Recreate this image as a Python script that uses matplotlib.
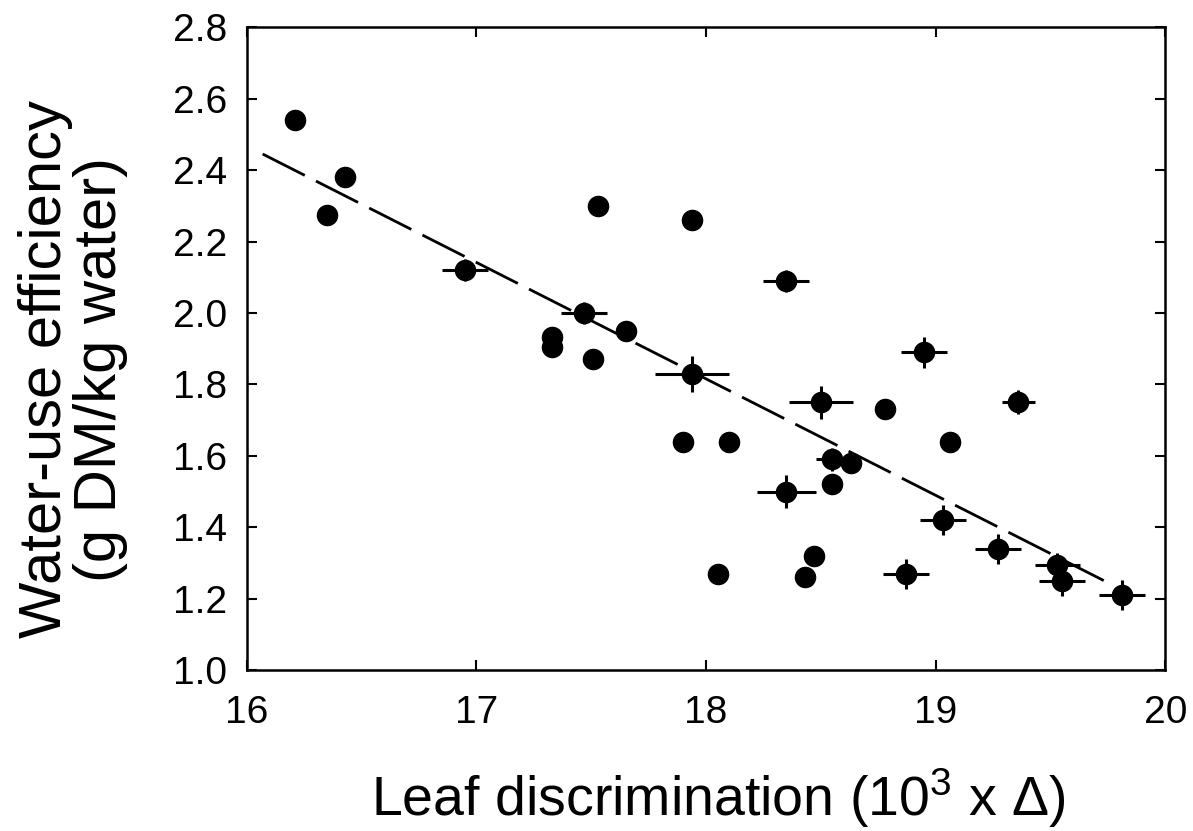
import numpy as np
import matplotlib
matplotlib.use("Agg")
import matplotlib.pyplot as plt

plt.rcParams['font.family'] = ['Liberation Sans', 'DejaVu Sans']
plt.rcParams['mathtext.default'] = 'regular'

# points without error bars
x_plain = [16.21, 16.35, 16.43, 17.33, 17.33, 17.51, 17.53, 17.65, 17.94, 17.90,
           18.10, 18.05, 18.43, 18.47, 18.55, 18.63, 18.78, 19.06]
y_plain = [2.54, 2.275, 2.38, 1.934, 1.906, 1.87, 2.30, 1.95, 2.26, 1.64,
           1.64, 1.27, 1.26, 1.32, 1.52, 1.58, 1.73, 1.64]

# points with error bars
x_err = [16.95, 17.47, 17.94, 18.35, 18.50, 18.55, 18.35, 19.03, 19.27, 18.87,
         18.95, 19.36, 19.53, 19.55, 19.81]
y_err = [2.12, 2.00, 1.83, 2.09, 1.75, 1.59, 1.50, 1.42, 1.34, 1.27,
         1.89, 1.75, 1.293, 1.25, 1.21]
xe = [0.10, 0.10, 0.16, 0.10, 0.14, 0.07, 0.13, 0.10, 0.10, 0.10,
      0.10, 0.07, 0.10, 0.10, 0.10]
ye = [0.03, 0.03, 0.05, 0.03, 0.047, 0.033, 0.047, 0.043, 0.042, 0.042,
      0.043, 0.033, 0.036, 0.044, 0.043]

# regression line
fit_x = [16.07, 19.75]
fit_slope, fit_icpt = -0.3263, 7.689

fig = plt.figure(figsize=(11.93, 8.31), dpi=100)
ax = fig.add_axes([0.2067, 0.1937, 0.7702, 0.7733])

fx = np.array(fit_x)
ax.plot(fx, fit_slope * fx + fit_icpt, color='black', lw=2.0, dashes=(17, 4.5))

ax.errorbar(x_err, y_err, xerr=xe, yerr=ye, fmt='o', color='black',
            ms=14.5, elinewidth=2.2, capsize=0, zorder=3)
ax.plot(x_plain, y_plain, 'o', color='black', ms=14.5, zorder=3)

ax.set_xlim(16, 20)
ax.set_ylim(1.0, 2.8)
ax.set_xticks([16, 17, 18, 19, 20])
ax.set_yticks(np.arange(1.0, 2.81, 0.2))
ax.set_yticklabels([f'{v:.1f}' for v in np.arange(1.0, 2.81, 0.2)])
ax.tick_params(direction='in', length=7, width=1.5, labelsize=28,
               top=True, right=True)
ax.tick_params(axis='x', pad=18)
ax.tick_params(axis='y', pad=14)
for s in ax.spines.values():
    s.set_linewidth(1.8)

ax.set_xlabel('Leaf discrimination (10$^3$ x \u0394)', fontsize=40)
ax.xaxis.set_label_coords(0.513, -0.15)
ax.set_ylabel('Water-use efficiency\n(g DM/kg water)', fontsize=43,
              linespacing=1.0)
ax.yaxis.set_label_coords(-0.129, 0.468)

fig.savefig('out.png', dpi=100)
